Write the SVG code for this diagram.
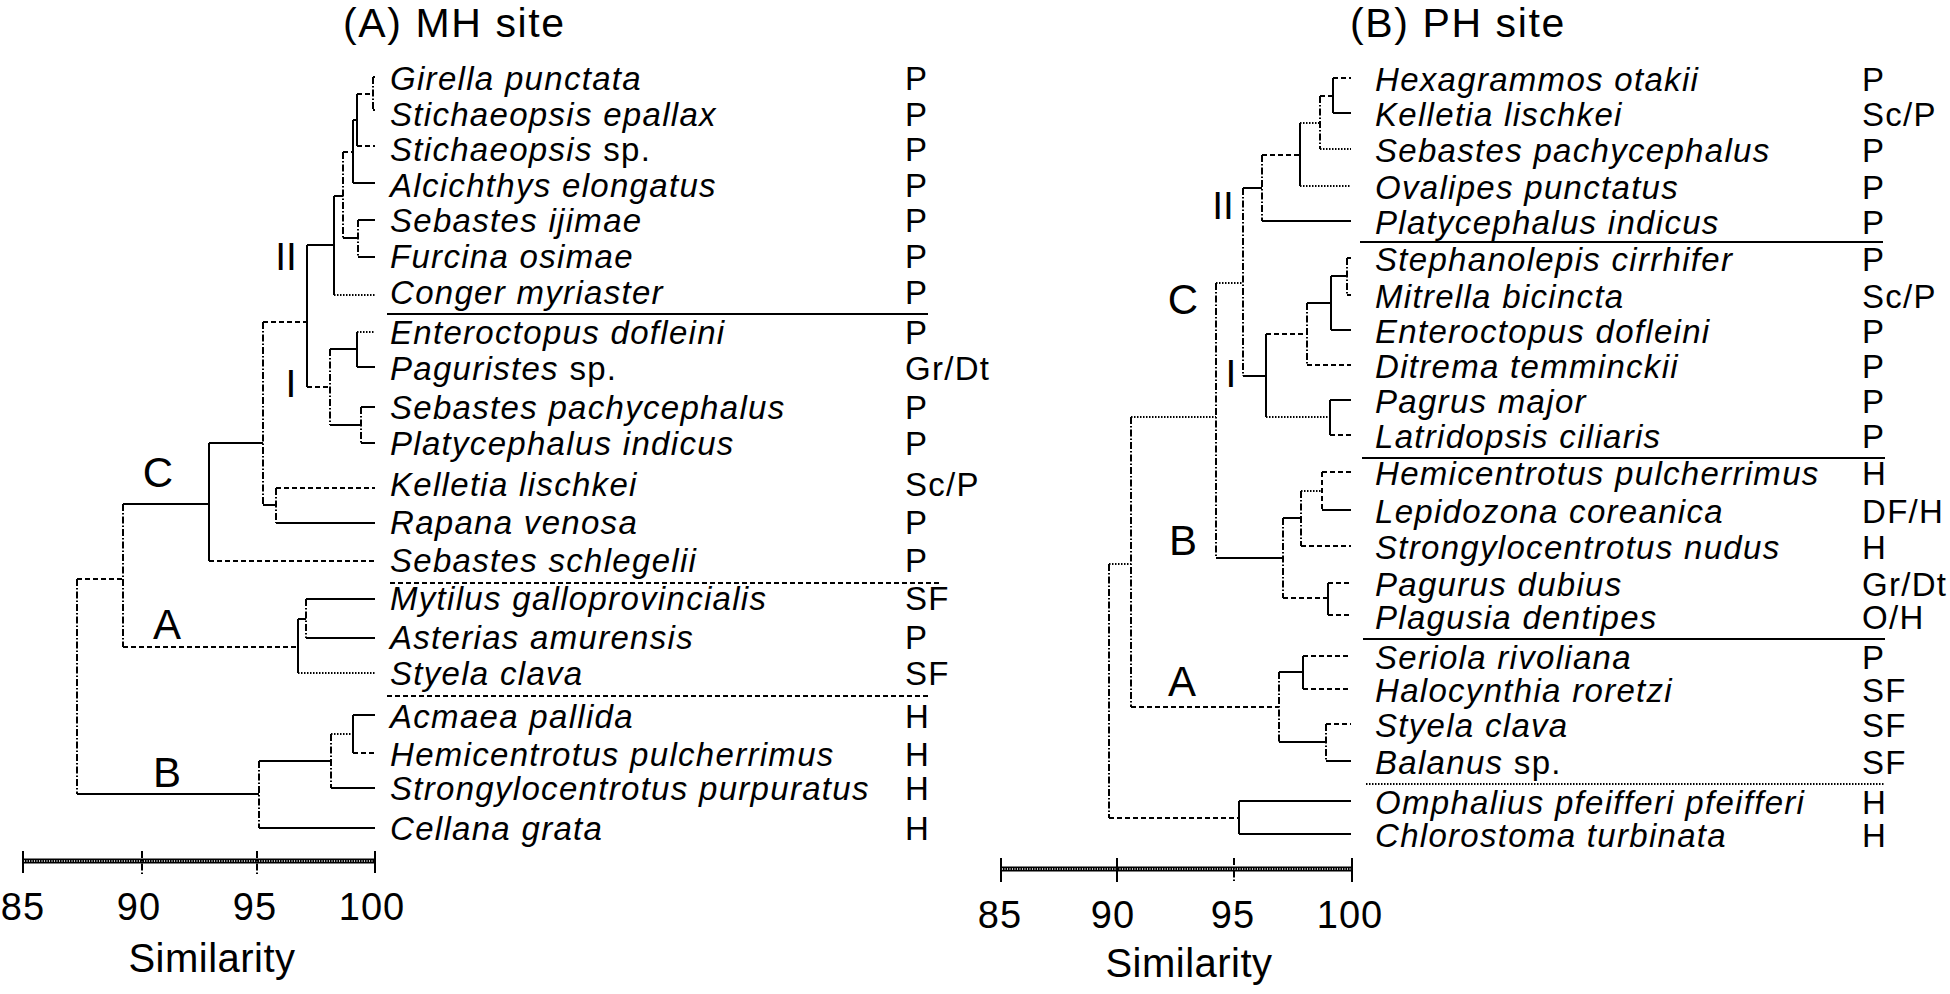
<svg xmlns="http://www.w3.org/2000/svg" width="1950" height="994" viewBox="0 0 1950 994">
<style>
text{font-family:"Liberation Sans",Arial,sans-serif;fill:#000}
.sp{font-size:33px;font-style:italic;letter-spacing:1.3px}
.sp tspan.r{font-style:normal}
.code{font-size:33px;letter-spacing:1.3px}
.title{font-size:41px;letter-spacing:1.6px}
.cl{font-size:42px;text-anchor:middle}
.tick{font-size:38px;text-anchor:middle;letter-spacing:1px}
.ax{font-size:40px;text-anchor:middle;letter-spacing:0.5px}
path{fill:none;stroke:#000;stroke-width:2}
.d{stroke-dasharray:5 3}
.o{stroke-dasharray:1.5 1.5}
.dd{stroke-dasharray:7 2 1.5 2}
.bar{stroke-width:5}
.barin{stroke:#fff;stroke-width:1.5;stroke-dasharray:1 1.5}
</style>

<text class="title" x="343" y="37">(A) MH site</text>
<text class="title" x="1350" y="37">(B) PH site</text>

<!-- Panel A leaves -->
<g id="a-girella"><text class="sp" x="390" y="90">Girella punctata</text><text class="code" x="905" y="90">P</text></g>
<g id="a-stichaeopsis-epallax"><text class="sp" x="390" y="126">Stichaeopsis epallax</text><text class="code" x="905" y="126">P</text></g>
<g id="a-stichaeopsis-sp"><text class="sp" x="390" y="161">Stichaeopsis <tspan class="r">sp.</tspan></text><text class="code" x="905" y="161">P</text></g>
<g id="a-alcichthys"><text class="sp" x="390" y="197">Alcichthys elongatus</text><text class="code" x="905" y="197">P</text></g>
<g id="a-sebastes-ijimae"><text class="sp" x="390" y="232">Sebastes ijimae</text><text class="code" x="905" y="232">P</text></g>
<g id="a-furcina"><text class="sp" x="390" y="268">Furcina osimae</text><text class="code" x="905" y="268">P</text></g>
<g id="a-conger"><text class="sp" x="390" y="304">Conger myriaster</text><text class="code" x="905" y="304">P</text></g>
<g id="a-enteroctopus"><text class="sp" x="390" y="344">Enteroctopus dofleini</text><text class="code" x="905" y="344">P</text></g>
<g id="a-paguristes"><text class="sp" x="390" y="380">Paguristes <tspan class="r">sp.</tspan></text><text class="code" x="905" y="380">Gr/Dt</text></g>
<g id="a-sebastes-pachycephalus"><text class="sp" x="390" y="419">Sebastes pachycephalus</text><text class="code" x="905" y="419">P</text></g>
<g id="a-platycephalus"><text class="sp" x="390" y="455">Platycephalus indicus</text><text class="code" x="905" y="455">P</text></g>
<g id="a-kelletia"><text class="sp" x="390" y="496">Kelletia lischkei</text><text class="code" x="905" y="496">Sc/P</text></g>
<g id="a-rapana"><text class="sp" x="390" y="534">Rapana venosa</text><text class="code" x="905" y="534">P</text></g>
<g id="a-sebastes-schlegelii"><text class="sp" x="390" y="572">Sebastes schlegelii</text><text class="code" x="905" y="572">P</text></g>
<g id="a-mytilus"><text class="sp" x="390" y="610">Mytilus galloprovincialis</text><text class="code" x="905" y="610">SF</text></g>
<g id="a-asterias"><text class="sp" x="390" y="649">Asterias amurensis</text><text class="code" x="905" y="649">P</text></g>
<g id="a-styela"><text class="sp" x="390" y="685">Styela clava</text><text class="code" x="905" y="685">SF</text></g>
<g id="a-acmaea"><text class="sp" x="390" y="728">Acmaea pallida</text><text class="code" x="905" y="728">H</text></g>
<g id="a-hemicentrotus"><text class="sp" x="390" y="766">Hemicentrotus pulcherrimus</text><text class="code" x="905" y="766">H</text></g>
<g id="a-strongylocentrotus"><text class="sp" x="390" y="800">Strongylocentrotus purpuratus</text><text class="code" x="905" y="800">H</text></g>
<g id="a-cellana"><text class="sp" x="390" y="840">Cellana grata</text><text class="code" x="905" y="840">H</text></g>

<!-- Panel A cluster labels -->
<g id="a-labels">
<text class="cl" x="286" y="270" style="font-size:39px">II</text>
<text class="cl" x="291" y="397" style="font-size:39px">I</text>
<text class="cl" x="158" y="487">C</text>
<text class="cl" x="167" y="639">A</text>
<text class="cl" x="167" y="787">B</text>
</g>

<!-- Panel A separators -->
<g id="a-separators">
<path d="M387 314H928"/>
<path class="d" d="M390 583H940"/>
<path class="d" d="M387 696H928"/>
</g>

<!-- Panel A connectors -->
<g id="a-connectors">
<path d="M373 77H375M373 110H375"/>
<path class="dd" d="M373 77V110"/>
<path class="d" d="M357 94H373"/>
<path class="d" d="M357 146H375"/>
<path d="M357 94V146M353 120H357M353 183H375M353 120V183"/>
<path class="d" d="M343 152H353"/>
<path d="M358 220H375M358 257H375"/>
<path class="dd" d="M358 220V257"/>
<path d="M343 238H358"/>
<path class="dd" d="M343 152V238"/>
<path d="M334 196H343"/>
<path class="o" d="M334 295H375"/>
<path d="M334 196V295M307 245H334"/>
<path class="o" d="M357 332H375"/>
<path d="M357 367H375M357 332V367M330 349H357M361 407H375M361 443H375"/>
<path class="dd" d="M361 407V443"/>
<path d="M330 425H361"/>
<path class="dd" d="M330 349V425"/>
<path class="d" d="M307 387H330"/>
<path d="M307 245V387"/>
<path class="d" d="M263 322H307"/>
<path class="d" d="M276 488H375"/>
<path d="M276 523H375"/>
<path class="dd" d="M276 488V523"/>
<path d="M263 505H276"/>
<path class="dd" d="M263 322V505"/>
<path d="M209 443H263"/>
<path class="d" d="M209 561H375"/>
<path d="M209 443V561M123 504H209M306 599H375M306 638H375"/>
<path class="dd" d="M306 599V638"/>
<path d="M298 619H306"/>
<path class="o" d="M298 673H375"/>
<path d="M298 619V673"/>
<path class="d" d="M123 647H298"/>
<path class="dd" d="M123 504V647"/>
<path class="d" d="M77 579H123"/>
<path d="M353 715H375"/>
<path class="d" d="M353 753H375"/>
<path d="M353 715V753"/>
<path class="o" d="M331 734H353"/>
<path d="M331 788H375"/>
<path class="dd" d="M331 734V788"/>
<path d="M259 761H331M259 828H375"/>
<path class="dd" d="M259 761V828"/>
<path d="M77 794H259"/>
<path class="dd" d="M77 579V794"/>
</g>

<!-- Panel A axis -->
<g id="a-axis">
<path class="bar" d="M23 861H375"/>
<path class="barin" d="M24 861H374"/>
<path d="M23 851V873M375 851V873"/>
<path class="dd" d="M142 851V875M257 851V875"/>
<text class="tick" x="23" y="920">85</text>
<text class="tick" x="139" y="920">90</text>
<text class="tick" x="255" y="920">95</text>
<text class="tick" x="372" y="920">100</text>
<text class="ax" x="212" y="972">Similarity</text>
</g>

<!-- Panel B leaves -->
<g id="b-hexagrammos"><text class="sp" x="1375" y="91">Hexagrammos otakii</text><text class="code" x="1862" y="91">P</text></g>
<g id="b-kelletia"><text class="sp" x="1375" y="126">Kelletia lischkei</text><text class="code" x="1862" y="126">Sc/P</text></g>
<g id="b-sebastes"><text class="sp" x="1375" y="162">Sebastes pachycephalus</text><text class="code" x="1862" y="162">P</text></g>
<g id="b-ovalipes"><text class="sp" x="1375" y="199">Ovalipes punctatus</text><text class="code" x="1862" y="199">P</text></g>
<g id="b-platycephalus"><text class="sp" x="1375" y="234">Platycephalus indicus</text><text class="code" x="1862" y="234">P</text></g>
<g id="b-stephanolepis"><text class="sp" x="1375" y="271">Stephanolepis cirrhifer</text><text class="code" x="1862" y="271">P</text></g>
<g id="b-mitrella"><text class="sp" x="1375" y="308">Mitrella bicincta</text><text class="code" x="1862" y="308">Sc/P</text></g>
<g id="b-enteroctopus"><text class="sp" x="1375" y="343">Enteroctopus dofleini</text><text class="code" x="1862" y="343">P</text></g>
<g id="b-ditrema"><text class="sp" x="1375" y="378">Ditrema temminckii</text><text class="code" x="1862" y="378">P</text></g>
<g id="b-pagrus"><text class="sp" x="1375" y="413">Pagrus major</text><text class="code" x="1862" y="413">P</text></g>
<g id="b-latridopsis"><text class="sp" x="1375" y="448">Latridopsis ciliaris</text><text class="code" x="1862" y="448">P</text></g>
<g id="b-hemicentrotus"><text class="sp" x="1375" y="485">Hemicentrotus pulcherrimus</text><text class="code" x="1862" y="485">H</text></g>
<g id="b-lepidozona"><text class="sp" x="1375" y="523">Lepidozona coreanica</text><text class="code" x="1862" y="523">DF/H</text></g>
<g id="b-strongylocentrotus"><text class="sp" x="1375" y="559">Strongylocentrotus nudus</text><text class="code" x="1862" y="559">H</text></g>
<g id="b-pagurus"><text class="sp" x="1375" y="596">Pagurus dubius</text><text class="code" x="1862" y="596">Gr/Dt</text></g>
<g id="b-plagusia"><text class="sp" x="1375" y="629">Plagusia dentipes</text><text class="code" x="1862" y="629">O/H</text></g>
<g id="b-seriola"><text class="sp" x="1375" y="669">Seriola rivoliana</text><text class="code" x="1862" y="669">P</text></g>
<g id="b-halocynthia"><text class="sp" x="1375" y="702">Halocynthia roretzi</text><text class="code" x="1862" y="702">SF</text></g>
<g id="b-styela"><text class="sp" x="1375" y="737">Styela clava</text><text class="code" x="1862" y="737">SF</text></g>
<g id="b-balanus"><text class="sp" x="1375" y="774">Balanus <tspan class="r">sp.</tspan></text><text class="code" x="1862" y="774">SF</text></g>
<g id="b-omphalius"><text class="sp" x="1375" y="814">Omphalius pfeifferi pfeifferi</text><text class="code" x="1862" y="814">H</text></g>
<g id="b-chlorostoma"><text class="sp" x="1375" y="847">Chlorostoma turbinata</text><text class="code" x="1862" y="847">H</text></g>

<!-- Panel B cluster labels -->
<g id="b-labels">
<text class="cl" x="1223" y="219" style="font-size:39px">II</text>
<text class="cl" x="1231" y="387" style="font-size:39px">I</text>
<text class="cl" x="1183" y="314">C</text>
<text class="cl" x="1183" y="555">B</text>
<text class="cl" x="1182" y="696">A</text>
</g>

<!-- Panel B separators -->
<g id="b-separators">
<path d="M1360 242H1883"/>
<path d="M1362 458H1885"/>
<path d="M1363 639H1885"/>
<path class="o" d="M1366 784H1885"/>
</g>

<!-- Panel B connectors -->
<g id="b-connectors">
<path class="d" d="M1333 78H1351"/>
<path d="M1333 113H1351M1333 78V113"/>
<path class="d" d="M1320 96H1333"/>
<path class="o" d="M1320 149H1351"/>
<path class="dd" d="M1320 96V149"/>
<path class="o" d="M1300 123H1320M1300 186H1351"/>
<path d="M1300 123V186"/>
<path class="d" d="M1262 155H1300"/>
<path d="M1262 221H1351"/>
<path class="dd" d="M1262 155V221"/>
<path d="M1243 188H1262"/>
<path d="M1347 258H1351M1347 295H1351"/>
<path class="dd" d="M1347 258V295"/>
<path d="M1331 276H1347M1331 330H1351M1331 276V330M1307 303H1331"/>
<path class="d" d="M1307 365H1351"/>
<path class="dd" d="M1307 303V365"/>
<path class="d" d="M1266 334H1307"/>
<path d="M1330 400H1351"/>
<path class="d" d="M1330 435H1351"/>
<path d="M1330 400V435"/>
<path class="o" d="M1266 417H1330"/>
<path d="M1266 334V417M1243 376H1266"/>
<path class="dd" d="M1243 188V376"/>
<path class="o" d="M1216 283H1243"/>
<path class="d" d="M1322 472H1351"/>
<path d="M1322 510H1351"/>
<path class="d" d="M1322 472V510"/>
<path class="o" d="M1301 491H1322"/>
<path class="d" d="M1301 546H1351"/>
<path class="dd" d="M1301 491V546"/>
<path d="M1283 518H1301"/>
<path class="d" d="M1328 583H1351M1328 615H1351"/>
<path d="M1328 583V615"/>
<path class="d" d="M1283 598H1328"/>
<path class="dd" d="M1283 518V598"/>
<path d="M1216 558H1283"/>
<path class="dd" d="M1216 283V558"/>
<path class="o" d="M1131 417H1216"/>
<path class="d" d="M1303 656H1351M1303 689H1351"/>
<path d="M1303 656V689M1279 672H1303"/>
<path class="d" d="M1326 724H1351"/>
<path d="M1326 761H1351"/>
<path class="dd" d="M1326 724V761"/>
<path d="M1279 742H1326"/>
<path class="dd" d="M1279 672V742"/>
<path class="d" d="M1131 707H1279"/>
<path class="dd" d="M1131 417V707"/>
<path class="o" d="M1109 564H1131"/>
<path d="M1239 801H1351M1239 834H1351M1239 801V834"/>
<path class="d" d="M1109 818H1239"/>
<path class="dd" d="M1109 564V818"/>
</g>

<!-- Panel B axis -->
<g id="b-axis">
<path class="bar" d="M1001 869H1352"/>
<path class="barin" d="M1002 869H1351"/>
<path d="M1001 858V882M1117 858V882M1352 858V882"/>
<path class="dd" d="M1234 858V882"/>
<text class="tick" x="1000" y="928">85</text>
<text class="tick" x="1113" y="928">90</text>
<text class="tick" x="1233" y="928">95</text>
<text class="tick" x="1350" y="928">100</text>
<text class="ax" x="1189" y="977">Similarity</text>
</g>
</svg>
